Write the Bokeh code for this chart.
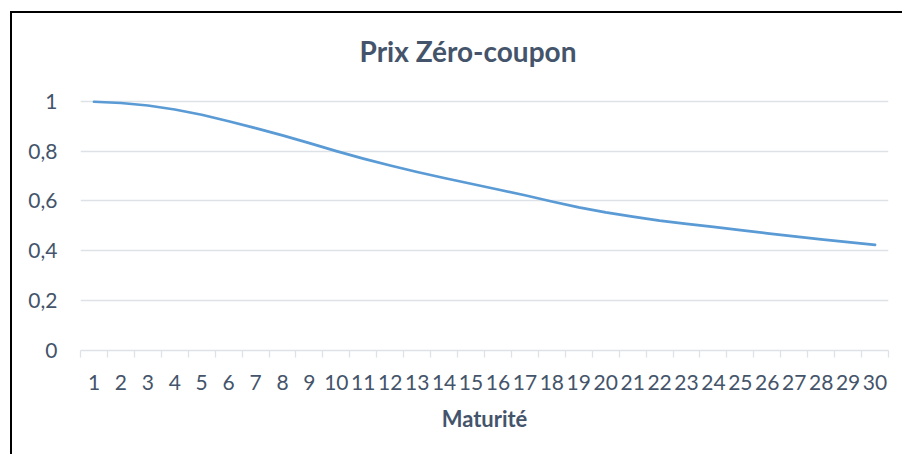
from bokeh.plotting import figure
from bokeh.models import Range1d, FixedTicker, Label
from bokeh.embed import file_html
from bokeh.resources import INLINE

# ---- data ----
maturites = [1, 2, 3, 4, 5, 6, 7, 8, 9, 10, 11, 12, 13, 14, 15,
             16, 17, 18, 19, 20, 21, 22, 23, 24, 25, 26, 27, 28, 29, 30]
prix = [0.998, 0.993, 0.983, 0.967, 0.946, 0.920, 0.892, 0.863, 0.832, 0.800,
        0.770, 0.742, 0.716, 0.692, 0.669, 0.646, 0.623, 0.598, 0.574, 0.554,
        0.537, 0.521, 0.508, 0.496, 0.483, 0.470, 0.458, 0.446, 0.435, 0.424]
y_ticks = [0, 0.2, 0.4, 0.6, 0.8, 1]
y_tick_labels = ["0", "0,2", "0,4", "0,6", "0,8", "1"]
titre = "Prix Zéro-coupon"
titre_x = "Maturité"

TEXT = "#44546A"
GRID = "#DEE2E7"
FONT = "Lato"

p = figure(width=892, height=443, output_backend="svg", toolbar_location=None,
           x_range=Range1d(0.5, 30.5), y_range=Range1d(0, 1.312),
           min_border_left=68, min_border_right=16,
           min_border_top=10, min_border_bottom=106)
p.styles = {"border-left": "2px solid #000000", "border-top": "2px solid #000000",
            "margin-left": "10px", "margin-top": "11px"}
p.outline_line_color = None
p.background_fill_color = "white"
p.border_fill_color = "white"

p.line(maturites, prix, line_color="#5B9BD5", line_width=2.7,
       line_join="round", line_cap="round")

# x axis (category style: labels centred, tick marks between categories)
xa = p.xaxis[0]
xa.ticker = FixedTicker(ticks=maturites,
                        minor_ticks=[m - 0.5 for m in maturites] + [maturites[-1] + 0.5])
xa.major_tick_out = 7
xa.major_tick_in = 0
xa.major_tick_line_color = None
xa.minor_tick_out = 7
xa.minor_tick_in = 0
xa.minor_tick_line_color = GRID
xa.minor_tick_line_width = 1.3
xa.axis_line_color = GRID
xa.axis_line_width = 1.3
xa.major_label_text_font = FONT
xa.major_label_text_font_size = "21px"
xa.major_label_text_color = TEXT
xa.major_label_standoff = 17
xa.axis_label = titre_x
xa.axis_label_text_font = FONT
xa.axis_label_text_font_size = "22px"
xa.axis_label_text_font_style = "bold"
xa.axis_label_text_color = TEXT
xa.axis_label_standoff = 12

ya = p.yaxis[0]
ya.ticker = FixedTicker(ticks=y_ticks)
ya.major_label_overrides = dict(zip(y_ticks, y_tick_labels))
ya.axis_line_color = None
ya.major_tick_line_color = None
ya.minor_tick_line_color = None
ya.major_tick_out = 0
ya.major_tick_in = 0
ya.major_label_standoff = 23
ya.major_label_text_font = FONT
ya.major_label_text_font_size = "21px"
ya.major_label_text_color = TEXT

p.xgrid.visible = False
p.ygrid.ticker = FixedTicker(ticks=y_ticks)
p.ygrid.grid_line_color = GRID
p.ygrid.grid_line_width = 1.3

p.add_layout(Label(x=387.5, y=299.5, x_units="screen", y_units="screen",
                   text=titre, text_align="center", text_baseline="alphabetic",
                   text_font=FONT, text_font_size="28px", text_font_style="bold",
                   text_color=TEXT))

open("out.html", "w").write(file_html(p, INLINE))
